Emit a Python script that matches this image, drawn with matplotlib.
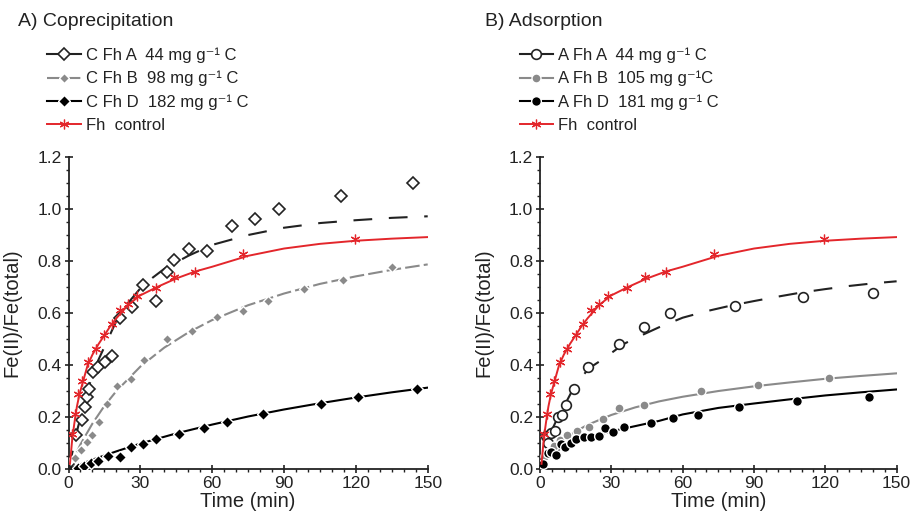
"""Fe(II)/Fe(total) over time for coprecipitated and adsorbed C-ferrihydrite."""

import matplotlib
matplotlib.use("Agg")
import matplotlib.pyplot as plt
from matplotlib.lines import Line2D
from matplotlib.ticker import MultipleLocator, FormatStrFormatter

plt.rcParams["font.family"] = ["Liberation Sans", "DejaVu Sans"]

INK = "#222222"
GREY = "#8a8a8a"
RED = "#e3262b"

# Fh control (same data in both panels)
ctrl_t = [1.6, 2.9, 4.0, 5.7, 8.2, 11.4, 15.0, 18.0, 21.3, 24.7, 28.7, 36.5, 44.0, 52.8, 73.0, 119.5]
ctrl_v = [0.133, 0.21, 0.288, 0.34, 0.41, 0.46, 0.515, 0.558, 0.612, 0.636, 0.666, 0.697, 0.74, 0.759, 0.828, 0.885]
ctrl_fit_t = [0.6, 1, 1.6, 2.5, 3.5, 4.5, 6, 8, 10, 12.5, 15, 17.5, 20, 25, 30, 37, 45, 53, 60, 75, 90, 105, 120, 135, 150]
ctrl_fit_v = [0.02, 0.06, 0.12, 0.18, 0.24, 0.285, 0.335, 0.40, 0.44, 0.48, 0.515, 0.55, 0.58, 0.632, 0.668, 0.70,
              0.733, 0.76, 0.778, 0.82, 0.848, 0.866, 0.878, 0.886, 0.892]

# A) Coprecipitation
cA_t = [1.2, 3.1, 5.5, 6.9, 7.9, 8.7, 10.4, 12.5, 15.3, 18.3, 21.5, 26.4, 31.3, 36.6, 41.0, 44.2, 50.4, 57.8,
        68.2, 77.9, 88.1, 113.9, 143.8]
cA_v = [0.03, 0.13, 0.19, 0.24, 0.276, 0.309, 0.372, 0.391, 0.41, 0.436, 0.58, 0.624, 0.708, 0.646, 0.759, 0.804,
        0.845, 0.84, 0.935, 0.96, 0.999, 1.05, 1.099]
cA_fit_t = [0, 2, 4, 5, 7.5, 10, 12.5, 15, 20, 25, 30, 35, 40, 50, 60, 75, 90, 105, 120, 135, 150]
cA_fit_v = [0, 0.08, 0.163, 0.195, 0.29, 0.36, 0.42, 0.47, 0.57, 0.64, 0.695, 0.735, 0.77, 0.82, 0.862, 0.9,
            0.928, 0.946, 0.957, 0.966, 0.972]

cB_t = [2.7, 5.1, 7.6, 9.7, 12.7, 16.0, 20.4, 26.1, 31.7, 41.2, 51.5, 61.9, 73.0, 83.5, 98.4, 114.8, 135.2]
cB_v = [0.041, 0.073, 0.105, 0.131, 0.182, 0.249, 0.319, 0.345, 0.419, 0.5, 0.532, 0.583, 0.608, 0.646, 0.692,
        0.727, 0.776]
cB_fit_t = [0, 5, 10, 15, 20, 30, 40, 50, 60, 75, 90, 105, 120, 135, 150]
cB_fit_v = [0, 0.095, 0.175, 0.243, 0.30, 0.394, 0.467, 0.525, 0.573, 0.63, 0.675, 0.712, 0.741, 0.766, 0.787]

cD_t = [4.1, 6.5, 9.4, 12.5, 16.3, 21.5, 26.2, 31.3, 36.4, 46.1, 56.6, 66.1, 81.2, 105.5, 120.7, 145.5]
cD_v = [0.005, 0.013, 0.024, 0.031, 0.051, 0.045, 0.086, 0.096, 0.114, 0.133, 0.156, 0.182, 0.21, 0.25, 0.277,
        0.309]
cD_fit_t = [0, 10, 20, 30, 45, 60, 75, 90, 105, 120, 135, 150]
cD_fit_v = [0, 0.036, 0.068, 0.098, 0.137, 0.171, 0.202, 0.229, 0.253, 0.275, 0.295, 0.313]

# B) Adsorption
aA_t = [2.3, 3.3, 4.7, 6.1, 7.5, 9.3, 10.7, 14.1, 20.1, 33.1, 43.6, 54.5, 82.2, 110.5, 140.2]
aA_v = [0.127, 0.102, 0.138, 0.145, 0.2, 0.208, 0.246, 0.306, 0.391, 0.48, 0.545, 0.6, 0.628, 0.66, 0.678]
aA_fit_t = [0, 2, 5, 7.5, 10, 14, 17, 21, 27, 35, 40, 50, 60, 70, 80, 90, 100, 110, 120, 130, 140, 150]
aA_fit_v = [0, 0.09, 0.15, 0.2, 0.24, 0.31, 0.35, 0.39, 0.426, 0.48, 0.503, 0.545, 0.582, 0.607, 0.628, 0.646,
            0.663, 0.679, 0.692, 0.704, 0.714, 0.722]

aB_t = [2.0, 4.0, 6.0, 8.5, 11.5, 15.5, 20.5, 26.4, 33.4, 43.6, 67.8, 91.6, 121.4]
aB_v = [0.05, 0.07, 0.09, 0.11, 0.13, 0.147, 0.163, 0.191, 0.233, 0.248, 0.3, 0.323, 0.35]
aB_fit_t = [0, 2, 5, 10, 15, 20, 30, 40, 50, 60, 75, 90, 105, 120, 135, 150]
aB_fit_v = [0.0, 0.045, 0.075, 0.115, 0.145, 0.17, 0.208, 0.237, 0.26, 0.278, 0.3, 0.318, 0.333, 0.347, 0.358, 0.368]

aD_t = [1.2, 3.3, 4.7, 6.5, 8.6, 10.6, 12.8, 15.2, 18.4, 21.5, 24.6, 27.4, 30.6, 35.5, 46.6, 56.1, 66.4, 83.5,
        108.2, 138.3]
aD_v = [0.019, 0.06, 0.067, 0.054, 0.096, 0.086, 0.101, 0.114, 0.122, 0.124, 0.128, 0.156, 0.144, 0.163, 0.176,
        0.195, 0.208, 0.24, 0.26, 0.278]
aD_fit_t = [0, 2, 5, 10, 20, 30, 40, 50, 60, 75, 90, 105, 120, 135, 150]
aD_fit_v = [0, 0.035, 0.06, 0.085, 0.12, 0.145, 0.165, 0.185, 0.21, 0.235, 0.252, 0.268, 0.283, 0.295, 0.306]

labels_A = ["C Fh A  44 mg g⁻¹ C", "C Fh B  98 mg g⁻¹ C", "C Fh D  182 mg g⁻¹ C", "Fh  control"]
labels_B = ["A Fh A  44 mg g⁻¹ C", "A Fh B  105 mg g⁻¹C", "A Fh D  181 mg g⁻¹ C", "Fh  control"]

STAR = (6, 2, 0)
LONG_DASH = (0, (9, 8))
GREY_DASH = (0, (7, 2))

# (points t, points v, fit t, fit v, colour, line style, legend line style, marker kwargs)
series_A = [
    (cA_t, cA_v, cA_fit_t, cA_fit_v, INK, LONG_DASH, "-",
     dict(marker="D", ms=6.5, mfc="white", mec=INK, mew=1.2)),
    (cB_t, cB_v, cB_fit_t, cB_fit_v, GREY, GREY_DASH, GREY_DASH,
     dict(marker="D", ms=5.5, mfc=GREY, mec="white", mew=1.0)),
    (cD_t, cD_v, cD_fit_t, cD_fit_v, "black", "-", "-",
     dict(marker="D", ms=6, mfc="black", mec="white", mew=1.0)),
]
series_B = [
    (aA_t, aA_v, aA_fit_t, aA_fit_v, INK, LONG_DASH, "-",
     dict(marker="o", ms=7, mfc="white", mec=INK, mew=1.2)),
    (aB_t, aB_v, aB_fit_t, aB_fit_v, GREY, "-", "-",
     dict(marker="o", ms=6.5, mfc=GREY, mec="white", mew=1.0)),
    (aD_t, aD_v, aD_fit_t, aD_fit_v, "black", "-", "-",
     dict(marker="o", ms=7, mfc="black", mec="white", mew=1.0)),
]
ctrl_marker = dict(marker=STAR, ms=7, mfc=RED, mec=RED, mew=0.9)

fig = plt.figure(figsize=(9.1, 5.17), dpi=100)
ax_a = fig.add_axes([0.0753, 0.0928, 0.3947, 0.6035])
ax_b = fig.add_axes([0.5935, 0.0928, 0.3918, 0.6035])


def draw_panel(ax, series, labels, title, title_x, legend_x):
    handles = []
    for t, v, ft, fv, colour, ls, legend_ls, mk in series:
        ax.plot(ft, fv, color=colour, ls=ls, lw=1.5, zorder=2)
        ax.plot(t, v, ls="none", zorder=3, **mk)
        handles.append(Line2D([], [], color=colour, ls=legend_ls, lw=1.5, **mk))
    ax.plot(ctrl_fit_t, ctrl_fit_v, color=RED, lw=1.4, zorder=4)
    ax.plot(ctrl_t, ctrl_v, ls="none", zorder=5, **ctrl_marker)
    handles.append(Line2D([], [], color=RED, lw=1.4, **ctrl_marker))

    ax.set_xlim(0, 150)
    ax.set_ylim(0, 1.2)
    ax.xaxis.set_major_locator(MultipleLocator(30))
    ax.xaxis.set_minor_locator(MultipleLocator(5))
    ax.yaxis.set_major_locator(MultipleLocator(0.2))
    ax.yaxis.set_minor_locator(MultipleLocator(0.05))
    ax.yaxis.set_major_formatter(FormatStrFormatter("%.1f"))
    for side in ("top", "right"):
        ax.spines[side].set_visible(False)
    for side in ("left", "bottom"):
        ax.spines[side].set_linewidth(1.3)
        ax.spines[side].set_color(INK)
    ax.tick_params(which="major", direction="inout", length=6, width=1.2, labelsize=12.5,
                   colors=INK, pad=2)
    ax.tick_params(which="minor", direction="out", length=2.5, width=1.0, colors=INK)
    ax.set_xlabel("Time (min)", fontsize=14.5, color=INK, labelpad=1)
    ax.set_ylabel("Fe(II)/Fe(total)", fontsize=14.5, color=INK)
    ax.yaxis.set_label_coords(-0.13, 0.5)

    fig.text(title_x, 0.958, title, fontsize=14, color=INK, ha="left", va="center")
    fig.legend(handles, labels, loc="upper left", bbox_to_anchor=(legend_x, 0.908),
               frameon=False, fontsize=12, handlelength=2.0, handletextpad=0.3,
               labelspacing=0.47, borderpad=0, borderaxespad=0, labelcolor=INK)


draw_panel(ax_a, series_A, labels_A, "A) Coprecipitation", 0.020, 0.052)
draw_panel(ax_b, series_B, labels_B, "B) Adsorption", 0.533, 0.571)

fig.savefig("out.png", dpi=100)
